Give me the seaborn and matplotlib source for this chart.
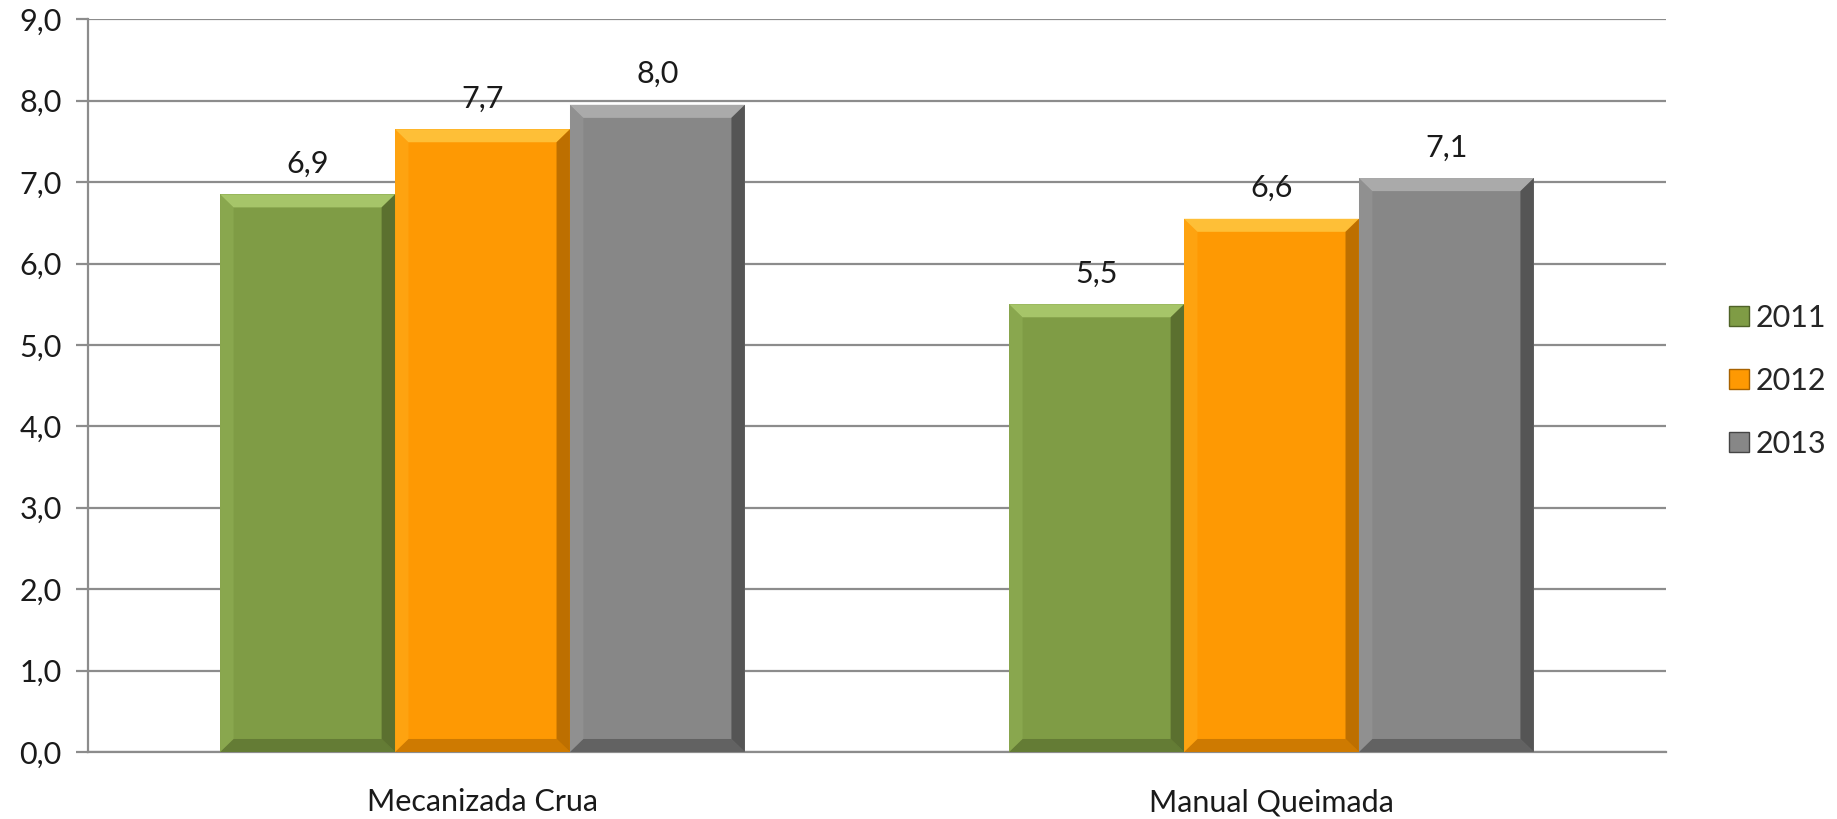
import matplotlib
matplotlib.use("Agg")
from decimal import Decimal, ROUND_HALF_UP
import pandas as pd
import matplotlib.pyplot as plt
import seaborn as sns
from matplotlib.patches import Polygon
from matplotlib.lines import Line2D
from matplotlib.ticker import FuncFormatter, MultipleLocator, FixedLocator

# dados
categorias = ["Mecanizada Crua", "Manual Queimada"]
anos = ["2011", "2012", "2013"]
v2011 = [6.85, 5.50]
v2012 = [7.65, 6.55]
v2013 = [7.95, 7.05]

cores = {"2011": "#7f9c45", "2012": "#fe9903", "2013": "#878787"}
claro = {"2011": "#a9c86c", "2012": "#ffc23a", "2013": "#adadad"}
escuro = {"2011": "#4f6228", "2012": "#a86200", "2013": "#454545"}

df = pd.DataFrame({
    "cat": categorias * 3,
    "ano": [a for a in anos for _ in categorias],
    "valor": v2011 + v2012 + v2013,
})


def fmt(v):
    return str(Decimal(str(v)).quantize(Decimal("0.1"), ROUND_HALF_UP)).replace(".", ",")


sns.set_theme(style="white")
plt.rcParams["font.family"] = ["Lato", "DejaVu Sans"]

fig = plt.figure(figsize=(18.37, 8.19), dpi=100)
ax = fig.add_axes([0.0479, 0.0818, 0.8590, 0.8946])

sns.barplot(data=df, x="cat", y="valor", hue="ano", palette=cores,
            width=0.665, gap=0, saturation=1, ax=ax, legend=False,
            edgecolor="none", linewidth=0, zorder=3)

ax.set_ylim(0, 9)
ax.set_xlim(-0.5, 1.5)

# efeito chanfrado nas barras
bx = 0.017
by = 0.16
for cont, ano in zip(ax.containers, anos):
    for p in cont.patches:
        x0, w, h = p.get_x(), p.get_width(), p.get_height()
        x1 = x0 + w
        faces = [
            ([(x0, h), (x1, h), (x1 - bx, h - by), (x0 + bx, h - by)], claro[ano], 0.95),
            ([(x0, 0), (x1, 0), (x1 - bx, by), (x0 + bx, by)], escuro[ano], 0.55),
            ([(x1, 0), (x1, h), (x1 - bx, h - by), (x1 - bx, by)], escuro[ano], 0.75),
            ([(x0, 0), (x0, h), (x0 + bx, h - by), (x0 + bx, by)], claro[ano], 0.25),
        ]
        for pts, c, a in faces:
            ax.add_patch(Polygon(pts, closed=True, facecolor=c, edgecolor="none",
                                 zorder=4, alpha=a))
    ax.bar_label(cont, labels=[fmt(v) for v in cont.datavalues], padding=12,
                 fontsize=22, color="#1a1a1a")

ax.yaxis.set_major_locator(MultipleLocator(1))
ax.yaxis.set_major_formatter(FuncFormatter(lambda v, _: f"{v:.1f}".replace(".", ",")))
ax.grid(axis="y", color="#8c8c8c", linewidth=1.6, zorder=0)
ax.set_axisbelow(True)

ax.xaxis.set_minor_locator(FixedLocator([-0.5, 0.5, 1.5]))
ax.tick_params(axis="x", which="major", length=0, pad=26, labelsize=22, colors="#1a1a1a")
ax.tick_params(axis="x", which="minor", length=9, width=1.6, color="#8c8c8c")
ax.tick_params(axis="y", which="major", length=9, width=1.6, color="#8c8c8c",
               pad=10, labelsize=22, labelcolor="#1a1a1a", left=True)

for s in ["top", "right"]:
    ax.spines[s].set_visible(False)
for s in ["left", "bottom"]:
    ax.spines[s].set_color("#8c8c8c")
    ax.spines[s].set_linewidth(1.6)

ax.set_xlabel("")
ax.set_ylabel("")

handles = [Line2D([], [], marker="s", linestyle="none", markersize=15,
                  markerfacecolor=cores[a], markeredgecolor=escuro[a]) for a in anos]
fig.legend(handles, anos, loc="center left", bbox_to_anchor=(0.924, 0.535),
           frameon=False, fontsize=22, handletextpad=0.1, labelspacing=1.15,
           handlelength=0.9)

fig.savefig("out.png", dpi=100)
